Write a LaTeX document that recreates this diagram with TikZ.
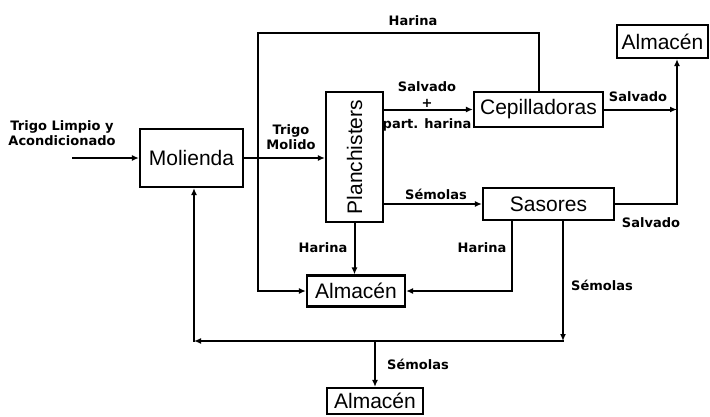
\documentclass[tikz,border=0pt]{standalone}
\usepackage{fontspec}
\setmainfont{Liberation Sans}
\newfontfamily\lblfont{DejaVu Sans}
\usetikzlibrary{arrows.meta}
\begin{document}
\begin{tikzpicture}[x=1pt,y=-1pt,
  box/.style={draw, line width=2.2pt, inner sep=0pt, font=\fontsize{21}{21}\selectfont},
  boxtext/.style={inner sep=0pt, font=\fontsize{21}{21}\selectfont},
  flow/.style={line width=2pt, line cap=rect, -{Latex[length=7pt,width=6pt]}},
  plain/.style={line width=2pt, line cap=rect},
  lbl/.style={font=\lblfont\bfseries\fontsize{13}{15}\selectfont, inner sep=0pt, align=center}]
\useasboundingbox (0,0) rectangle (710,416);

% process boxes
\node[box, minimum width=103pt, minimum height=58pt] (mol) at (191.5,158) {Molienda};
\node[box, minimum width=57pt, minimum height=130pt] (pla) at (354.5,157) {};
\node[boxtext, rotate=90] (platxt) at (pla) {Planchisters};
\node[box, minimum width=129pt, minimum height=35pt] (cep) at (538.5,109.5) {Cepilladoras};
\node[box, minimum width=131pt, minimum height=32pt] (sas) at (548.5,204) {Sasores};
\node[box, minimum width=91pt, minimum height=33pt] (alm1) at (662.5,41.5) {Almacén};
\node[box, minimum width=98pt, minimum height=31pt] (alm2) at (356,291) {Almacén};
\node[box, minimum width=96pt, minimum height=26pt] (alm3) at (375,401) {Almacén};

% helper points for the routed lines
\coordinate (in) at (73,158);
\coordinate (j1) at (258,33);
\coordinate (r1) at (677,0);
\coordinate (s1) at (512,0);
\coordinate (b1) at (563,341);
\coordinate (b2) at (194,341);

% connectors
\draw[flow] (in) -- (mol.west);
\draw[flow] (mol.east) -- (mol.east -| pla.west);
\draw[flow] (cep.north) -- (cep.north |- j1) -- (j1) -- (j1 |- alm2.west) -- (alm2.west);
\draw[flow] (pla.east |- cep.west) -- (cep.west);
\draw[flow] (pla.east |- sas.west) -- (sas.west);
\draw[flow] (cep.east) -- (cep.east -| r1);
\draw[plain] (sas.east) -- (sas.east -| r1) -- (cep.east -| r1);
\draw[flow] (cep.east -| r1) -- (r1 |- alm1.south);
\draw[flow] (pla.south) -- (pla.south |- alm2.north);
\draw[flow] (sas.south -| s1) -- (s1 |- alm2.east) -- (alm2.east);
\draw[flow] (sas.south -| b1) -- (b1);
\draw[flow] (b1) -- (b2);
\draw[flow] (b2) -- (b2 |- mol.south);
\draw[flow] (alm3.north |- b1) -- (alm3.north);

% labels
\node[lbl] (l1) at (62,133) {Trigo Limpio y\\Acondicionado};
\node[lbl] (l2) at (291,137) {Trigo\\Molido};
\node[lbl] (l3) at (413,21) {Harina};
\node[lbl] (l4) at (427,87) {Salvado};
\node[lbl] (l5) at (427,103) {+};
\node[lbl] (l6) at (427,125) {part. harina};
\node[lbl] (l7) at (436,194) {Sémolas};
\node[lbl] (l8) at (638,97) {Salvado};
\node[lbl] (l9) at (651,223) {Salvado};
\node[lbl] (l10) at (323,248) {Harina};
\node[lbl] (l11) at (482,248) {Harina};
\node[lbl] (l12) at (602,285) {Sémolas};
\node[lbl] (l13) at (418,364) {Sémolas};
\end{tikzpicture}
\end{document}
